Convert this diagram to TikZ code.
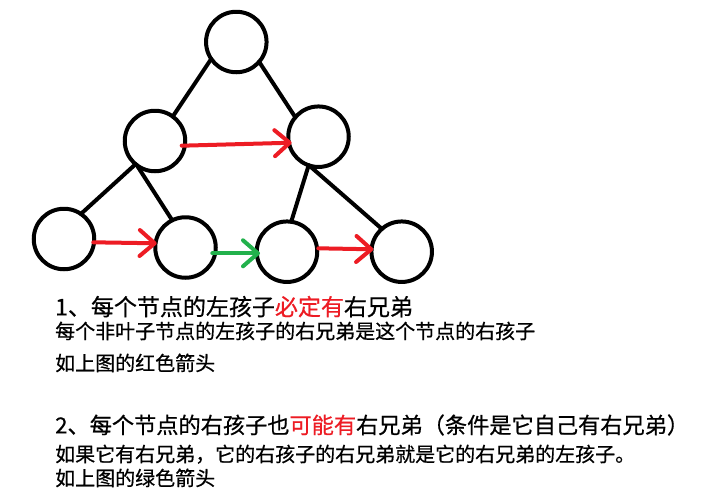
\documentclass[tikz,border=0pt]{standalone}
\usepackage{fontspec}
\newfontfamily\cjk[FakeBold=0.6]{Noto Sans CJK SC}
\usetikzlibrary{arrows.meta}
\definecolor{pred}{HTML}{ED1C24}
\definecolor{pgreen}{HTML}{22B14C}
\begin{document}
\begin{tikzpicture}[x=1pt,y=-1pt,
  tn/.style={circle,draw=black,line width=4pt,minimum size=60.5pt,inner sep=0pt,outer sep=0pt},
  edge/.style={line width=4pt,line cap=round},
  arr/.style={line width=4pt,line cap=round},
  tipA/.style={-{Straight Barb[length=15pt,width=26pt,round]}},
  h1/.style={anchor=base west,inner sep=0pt,font=\cjk\fontsize{23}{23}\selectfont},
  h2/.style={anchor=base west,inner sep=0pt,font=\cjk\fontsize{20}{20}\selectfont}]
\useasboundingbox (0,0) rectangle (708,496);
\fill[white] (0,0) rectangle (708,496);
% tree nodes
\node[tn] (root) at (236.3,42) {};
\node[tn] (lm) at (155,141) {};
\node[tn] (rm) at (318.5,136.7) {};
\node[tn] (ll) at (64,239) {};
\node[tn] (lr) at (185.5,247.5) {};
\node[tn] (rl) at (287,251.7) {};
\node[tn] (rr) at (401.7,251.7) {};
% tree edges
\draw[edge] (root.214) -- (lm.54);
\draw[edge] (root.319) -- (rm.140);
\draw[edge] (lm.230) -- (ll.56);
\draw[edge] (lm.233) -- (lr.116);
\draw[edge] (rm.251) -- (rl.82);
\draw[edge] (rm.252) -- (rr.131);
% sibling arrows
\draw[arr,pred,tipA] ([shift={(26.7,4.7)}]lm.center) -- ([shift={(-26.8,6)}]rm.center);
\draw[arr,pred,tipA] ([shift={(29.3,3.3)}]ll.center) -- ([shift={(-28.8,-4.2)}]lr.center);
\draw[arr,pgreen,tipA] ([shift={(26.8,5.8)}]lr.center) -- ([shift={(-27,1.6)}]rl.center);
\draw[arr,pred,tipA] ([shift={(31.3,-3.4)}]rl.center) -- ([shift={(-28.4,-2.4)}]rr.center);
% texts
\node[h1] (t1) at (55,315.4) {1、每个节点的左孩子\textcolor{pred}{必定有}右兄弟};
\node[h2] (t2) at (55,338.6) {每个非叶子节点的左孩子的右兄弟是这个节点的右孩子};
\node[h2] (t3) at (55,370.6) {如上图的红色箭头};
\node[h1,font=\cjk\fontsize{22.2}{22.2}\selectfont] (t4) at (55,433.4) {2、每个节点的右孩子也\textcolor{pred}{可能有}右兄弟（条件是它自己有右兄弟{\addfontfeatures{RawFeature=+halt}）}};
\node[h2] (t5) at (55,461.6) {如果它有右兄弟，它的右孩子的右兄弟就是它的右兄弟的左孩子。};
\node[h2] (t6) at (55,485.6) {如上图的绿色箭头};
\end{tikzpicture}
\end{document}
